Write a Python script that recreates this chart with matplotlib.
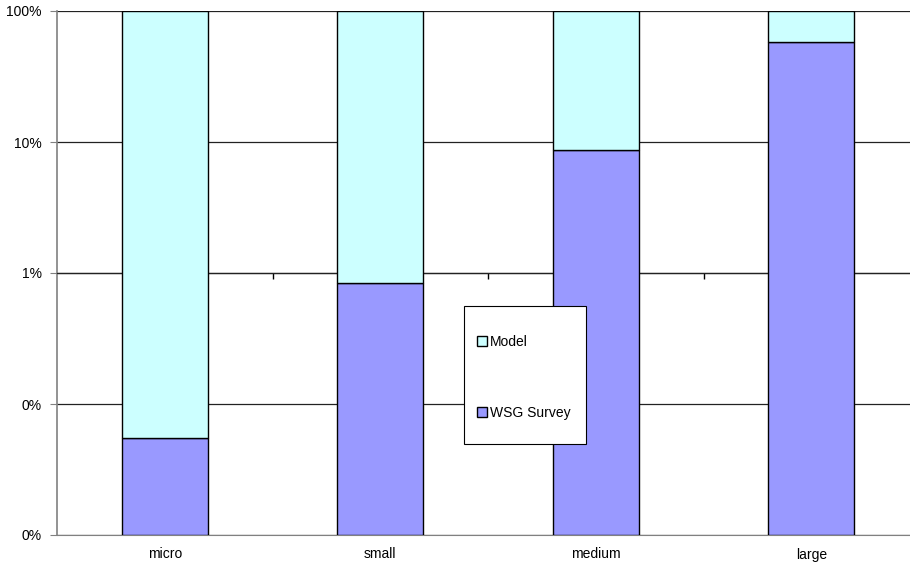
import matplotlib
matplotlib.use('Agg')
from matplotlib import pyplot as plt
from matplotlib.ticker import FixedLocator, FuncFormatter, NullLocator
from matplotlib.patches import Rectangle

categories = ['micro', 'small', 'medium', 'large']
survey = [0.00055, 0.0084, 0.087, 0.58]
model = [1 - s for s in survey]
y_min, y_max = 0.0001, 1.0
y_ticks = [0.0001, 0.001, 0.01, 0.1, 1.0]

plt.rcParams['font.family'] = ['Liberation Sans', 'DejaVu Sans']
plt.rcParams['font.size'] = 10

fig = plt.figure(figsize=(9.1, 5.69), dpi=100)
ax = fig.add_axes([57 / 910, 1 - 535 / 569, 853 / 910, 524 / 569])
ax.set_yscale('log')

x = list(range(len(categories)))
ax.bar(x, [s - y_min for s in survey], bottom=y_min, width=0.4,
       color='#9999FF', edgecolor='black', linewidth=1, label='WSG Survey', zorder=3)
ax.bar(x, model, bottom=survey, width=0.4,
       color='#CCFFFF', edgecolor='black', linewidth=1, label='Model', zorder=3)

ax.set_ylim(y_min, y_max)
ax.set_xlim(-0.5, 3.458)

# y axis
ax.yaxis.set_major_locator(FixedLocator(y_ticks))
ax.yaxis.set_minor_locator(NullLocator())
ax.yaxis.set_major_formatter(FuncFormatter(lambda v, p: f"{v * 100:.0f}%"))
ax.tick_params(axis='y', direction='out', length=5, color='#808080', pad=6)
ax.grid(axis='y', color='#222222', linewidth=0.9, zorder=0)

# x axis labels at bottom, no ticks
ax.set_xticks(x)
ax.set_xticklabels(categories)
ax.tick_params(axis='x', length=0, pad=9)

ax.spines['right'].set_visible(False)
ax.spines['left'].set_color('#808080')
ax.spines['left'].set_linewidth(1.2)
ax.spines['bottom'].set_color('#808080')

# category axis crosses at 1% with tick marks between categories
ax.spines['top'].set_position(('data', 0.01))
ax.spines['top'].set_color('#222222')
ax.spines['top'].set_linewidth(0.9)
ax.xaxis.set_minor_locator(FixedLocator([0.5, 1.5, 2.5]))
ax.tick_params(axis='x', which='minor', top=True, bottom=False,
               direction='in', length=4, width=1, color='black')

# legend
fig.add_artist(Rectangle((464 / 910, 1 - 444 / 569), 122 / 910, 138 / 569,
                         transform=fig.transFigure, facecolor='white',
                         edgecolor='black', linewidth=0.8, zorder=5))
handles, labels = ax.get_legend_handles_labels()
leg = fig.legend(handles[::-1], labels[::-1], loc='upper left',
                 bbox_to_anchor=(470 / 910, 1 - 328 / 569), frameon=False,
                 handlelength=0.7, handleheight=0.7, handletextpad=0.25,
                 labelspacing=4.1, borderpad=0, fontsize=10)
leg.set_zorder(6)

fig.savefig('out.png', dpi=100)
